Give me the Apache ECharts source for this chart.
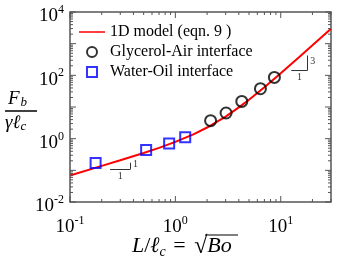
<!DOCTYPE html>
<html><head><meta charset="utf-8">
<script src="https://cdn.jsdelivr.net/npm/echarts@6/dist/echarts.min.js"></script>
<style>html,body{margin:0;padding:0;background:#fff}#c{width:339px;height:261px}</style>
</head><body><div id="c"></div>
<script>
// ---- data ----
const modelX = [0.1, 0.2, 0.3, 0.5, 0.7, 1, 1.5, 2, 3, 4, 5, 7, 10, 15, 20, 30];
const modelY = [0.069, 0.138, 0.207, 0.354, 0.513, 0.79, 1.39, 2.25, 4.98, 9.7, 17.0, 42.2, 116, 378, 886, 2960];
const glyX = [2.16, 3.03, 4.27, 6.42, 8.71];
const glyY = [3.70, 6.47, 15.0, 37.8, 85.9];
const woX = [0.175, 0.528, 0.873, 1.24];
const woY = [0.171, 0.44, 0.71, 1.10];
const xLabelVals = [0.1, 1, 10];
const yLabelVals = [0.01, 1, 100, 10000];
const seriesNames = ['1D model (eqn. 9 )', 'Glycerol-Air interface', 'Water-Oil interface'];
// slope triangles (data space)
const tri1 = {x0: 0.24, x1: 0.376, y0: 0.111, y1: 0.174, run: '1', rise: '1'};
const tri3 = {x0: 12.6, x1: 18.0, y0: 145, y1: 423, run: '1', rise: '3'};

const xMin = 0.1, xMax = 30, yMin = 0.01, yMax = 10000;
function decadeTicks(lo, hi, minor) {
  const out = [];
  for (let e = Math.floor(Math.log10(lo)); e <= Math.ceil(Math.log10(hi)); e++) {
    const base = Math.pow(10, e);
    if (minor) { for (let k = 2; k <= 9; k++) { const v = +(k * base).toPrecision(6); if (v >= lo && v <= hi) out.push(v); } }
    else { const v = +base.toPrecision(6); if (v >= lo && v <= hi) out.push(v); }
  }
  return out;
}
const xMajor = decadeTicks(xMin, xMax, false), xMinor = decadeTicks(xMin, xMax, true);
const yMajor = decadeTicks(yMin, yMax, false), yMinor = decadeTicks(yMin, yMax, true);
const expOf = v => Math.round(Math.log10(v));
const SERIF = 'Liberation Serif';
const AX = '#555';
const rich = {
  b: {fontFamily: SERIF, fontSize: 19, color: '#000', lineHeight: 22, verticalAlign: 'bottom'},
  s: {fontFamily: SERIF, fontSize: 12, color: '#000', lineHeight: 22, verticalAlign: 'top'}
};

const zip = (a, b) => a.map((v, i) => [v, b[i]]);
const annoStyle = {color: '#333', width: 1, type: 'solid'};
const annoLabel = {fontFamily: SERIF, fontSize: 10, color: '#333'};
function triMarks(t) {
  return [
    [{coord: [t.x0, t.y0]}, {coord: [t.x1, t.y0]}],
    [{coord: [t.x1, t.y0]}, {coord: [t.x1, t.y1]}]
  ];
}
function triLabels(t) {
  const xm = Math.sqrt(t.x0 * t.x1), ym = Math.sqrt(t.y0 * t.y1);
  return [
    {coord: [xm, t.y0], label: {show: true, position: 'inside', formatter: t.run, offset: [0, 7], ...annoLabel}},
    {coord: [t.x1, ym], label: {show: true, position: 'inside', formatter: t.rise, offset: [5, -1], ...annoLabel}}
  ];
}
// tick marks drawn through the axes' own scale (thin rects)
function tickSeries(vals, dir, len) {
  return {
    type: 'custom', coordinateSystem: 'cartesian2d', silent: true, z: 5, clip: false,
    data: vals.map(v => dir === 'x' ? [v, 1] : [1, v]),
    encode: {x: 0, y: 1},
    renderItem: (params, api) => {
      const st = {fill: AX};
      if (dir === 'x') {
        const v = api.value(0);
        const b = api.coord([v, yMin]), t = api.coord([v, yMax]);
        return {type: 'group', children: [
          {type: 'rect', shape: {x: b[0] - 0.5, y: b[1] - len, width: 1, height: len}, style: st},
          {type: 'rect', shape: {x: t[0] - 0.5, y: t[1], width: 1, height: len}, style: st}]};
      } else {
        const v = api.value(1);
        const l = api.coord([xMin, v]), r = api.coord([xMax, v]);
        return {type: 'group', children: [
          {type: 'rect', shape: {x: l[0], y: l[1] - 0.5, width: len, height: 1}, style: st},
          {type: 'rect', shape: {x: r[0] - len, y: r[1] - 0.5, width: len, height: 1}, style: st}]};
      }
    }
  };
}

const chart = echarts.init(document.getElementById('c'), null, {renderer: 'canvas'});
chart.setOption({
  animation: false,
  backgroundColor: '#fff',
  grid: {left: 70, right: 8, top: 12, bottom: 59, containLabel: false,
         show: true, borderColor: AX, borderWidth: 1.5, backgroundColor: 'rgba(0,0,0,0)'},
  xAxis: {type: 'log', logBase: 10, min: xMin, max: xMax,
    axisLine: {show: false}, axisTick: {show: false}, splitLine: {show: false},
    axisLabel: {customValues: xLabelVals, rich: rich, margin: 13, formatter: v => '{b|10}{s|' + expOf(v) + '}'}},
  yAxis: {type: 'log', logBase: 10, min: yMin, max: yMax,
    axisLine: {show: false}, axisTick: {show: false}, splitLine: {show: false},
    axisLabel: {customValues: yLabelVals, rich: rich, margin: 6, padding: [6, 0, 0, 0], formatter: v => '{b|10}{s|' + expOf(v) + '}'}},
  legend: {
    orient: 'vertical', left: 79, top: 24, padding: 0, itemWidth: 26, itemHeight: 10, itemGap: 4,
    textStyle: {fontFamily: SERIF, fontSize: 16, color: '#000'},
    data: [
      {name: seriesNames[0], icon: 'path://M0,4.2H26V5.8H0Z M0,0H0.01V0.01H0Z M25.99,9.99H26V10H25.99Z', itemStyle: {color: '#ff0000'}},
      {name: seriesNames[1], icon: 'circle', itemStyle: {color: 'rgba(0,0,0,0)', borderColor: '#000', borderWidth: 2}},
      {name: seriesNames[2], icon: 'path://M0,0H10V10H0Z', itemStyle: {color: 'rgba(0,0,0,0)', borderColor: '#0000ff', borderWidth: 2}}
    ]
  },
  series: [
    {name: seriesNames[0], type: 'line', data: zip(modelX, modelY), showSymbol: false, symbol: 'none',
     lineStyle: {color: '#ff0000', width: 2}, itemStyle: {color: '#ff0000'}, z: 2,
     markLine: {silent: true, symbol: 'none', label: {show: false}, lineStyle: annoStyle,
       data: triMarks(tri1).concat(triMarks(tri3))},
     markPoint: {silent: true, symbol: 'circle', symbolSize: 1, itemStyle: {color: 'rgba(0,0,0,0)'},
       data: triLabels(tri1).concat(triLabels(tri3))}
    },
    {name: seriesNames[1], type: 'scatter', data: zip(glyX, glyY), symbol: 'circle', symbolSize: 11,
     itemStyle: {color: 'rgba(0,0,0,0)', borderColor: '#000', borderWidth: 2}, z: 3},
    {name: seriesNames[2], type: 'scatter', data: zip(woX, woY), symbol: 'rect', symbolSize: 10,
     itemStyle: {color: 'rgba(0,0,0,0)', borderColor: '#0000ff', borderWidth: 2}, z: 3},
    tickSeries(xMajor, 'x', 6), tickSeries(xMinor, 'x', 3),
    tickSeries(yMajor, 'y', 6), tickSeries(yMinor, 'y', 3)
  ],
  graphic: [
    {type: 'text', left: 8, top: 89, style: {text: '{i|F}{sub|b}', rich: {
      i: {fontFamily: SERIF, fontStyle: 'italic', fontSize: 19, fill: '#000', lineHeight: 20, verticalAlign: 'top'},
      sub: {fontFamily: SERIF, fontStyle: 'italic', fontSize: 13, fill: '#000', lineHeight: 20, verticalAlign: 'bottom', padding: [0,0,0,1]}}}},
    {type: 'line', shape: {x1: 5, y1: 111, x2: 37, y2: 111}, style: {stroke: '#000', lineWidth: 1.5}},
    {type: 'text', left: 5, top: 113, style: {text: '{i|γℓ}{sub|c}', rich: {
      i: {fontFamily: SERIF, fontStyle: 'italic', fontSize: 19, fill: '#000', lineHeight: 20, verticalAlign: 'top'},
      sub: {fontFamily: SERIF, fontStyle: 'italic', fontSize: 13, fill: '#000', lineHeight: 20, verticalAlign: 'bottom'}}}},
    {type: 'text', left: 132, top: 235, style: {text: '{i|L}{s|/}{i|ℓ}{sub|c}{n| = }{r|√}{i|Bo}', rich: {
      i: {fontFamily: SERIF, fontStyle: 'italic', fontSize: 22, fill: '#000', lineHeight: 24, verticalAlign: 'top'},
      s: {fontFamily: SERIF, fontSize: 22, fill: '#000', lineHeight: 24, verticalAlign: 'top'},
      n: {fontFamily: SERIF, fontSize: 22, fill: '#000', lineHeight: 24, verticalAlign: 'top', padding: [0, 3, 0, 2]},
      r: {fontFamily: SERIF, fontSize: 24, fill: '#000', lineHeight: 24, verticalAlign: 'top'},
      sub: {fontFamily: SERIF, fontStyle: 'italic', fontSize: 14, fill: '#000', lineHeight: 24, verticalAlign: 'bottom'}}}},
    {type: 'line', shape: {x1: 205, y1: 235, x2: 238, y2: 235}, style: {stroke: '#000', lineWidth: 1.2}}
  ]
});
</script></body></html>
